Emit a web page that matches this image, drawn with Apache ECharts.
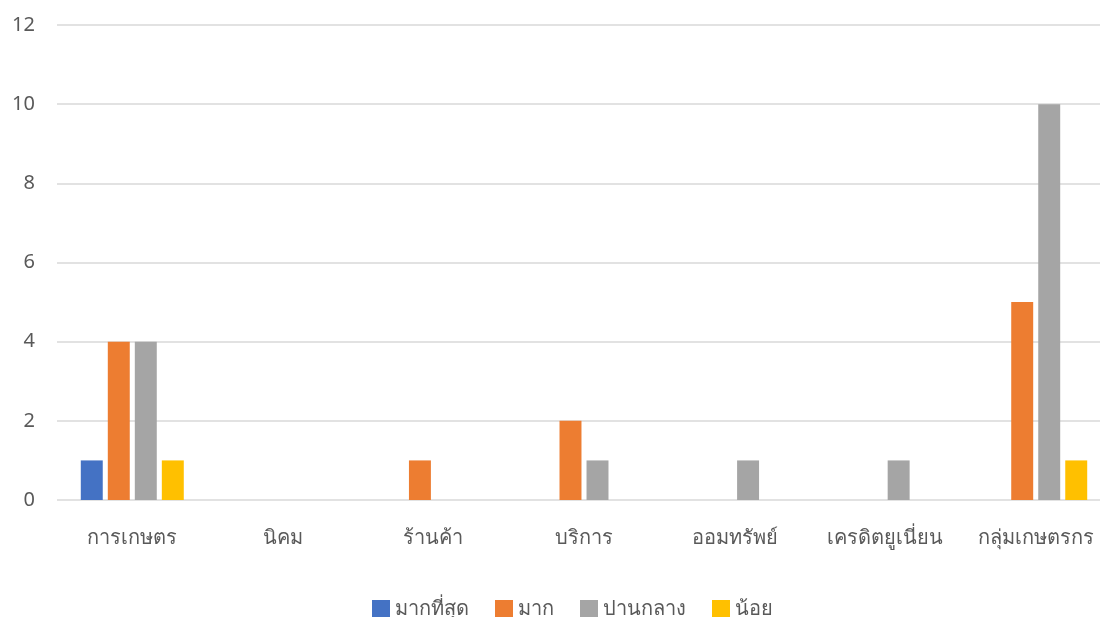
<!DOCTYPE html>
<html><head><meta charset="utf-8">
<script src="https://cdn.jsdelivr.net/npm/echarts@6/dist/echarts.min.js"></script>
<style>html,body{margin:0;padding:0;background:#fff}#c{width:1100px;height:617px}</style>
</head><body><div id="c"></div>
<script>
const categories = ['การเกษตร','นิคม','ร้านค้า','บริการ','ออมทรัพย์','เครดิตยูเนี่ยน','กลุ่มเกษตรกร'];
const seriesNames = ['มากที่สุด','มาก','ปานกลาง','น้อย'];
const mostValues = [1,0,0,0,0,0,0];
const muchValues = [4,0,1,2,0,0,5];
const mediumValues = [4,0,0,1,1,1,10];
const littleValues = [1,0,0,0,0,0,1];
const colors = ['#4472C4','#ED7D31','#A5A5A5','#FFC000'];
const yTicks = [0,2,4,6,8,10,12];

const allValues = [mostValues, muchValues, mediumValues, littleValues];
const chart = echarts.init(document.getElementById('c'));
const font = 'Tahoma, "Noto Sans", sans-serif';
chart.setOption({
  animation:false,
  color: colors,
  grid:{left:57, top:25, width:1054, height:475, containLabel:false, outerBoundsMode:'none'},
  legend:{
    data: seriesNames, top:594, left:367, itemWidth:18, itemHeight:18, itemGap:26,
    icon:'rect',
    textStyle:{color:'#595959', fontSize:20, fontFamily:font}
  },
  xAxis:{
    type:'category', data:categories,
    axisLine:{show:false}, axisTick:{show:false},
    axisLabel:{color:'#595959', fontSize:20, margin:28, fontFamily:font, interval:0}
  },
  yAxis:{
    type:'value', min:yTicks[0], max:yTicks[yTicks.length-1], interval:2,
    axisLine:{show:false}, axisTick:{show:false},
    axisLabel:{color:'#595959', fontSize:20, margin:22, fontFamily:font},
    splitLine:{lineStyle:{color:'#D9D9D9', width:1.5}}
  },
  series: seriesNames.map((n,i)=>({
    name:n, type:'bar', data:allValues[i],
    barGap:'23%', barCategoryGap:'31.6%'
  }))
});
</script></body></html>
